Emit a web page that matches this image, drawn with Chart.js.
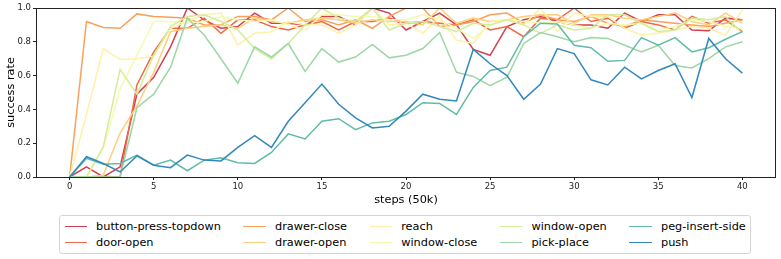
<!DOCTYPE html>
<html>
<head>
<meta charset="utf-8">
<script src="https://cdn.jsdelivr.net/npm/chart.js@4/dist/chart.umd.min.js"></script>
<style>
  html, body { margin: 0; padding: 0; background: #fff; }
  #wrap { position: relative; width: 781px; height: 259px; }
  #legend {
    position: absolute; left: 59px; top: 215px;
    display: flex; gap: 0 22.6px;
    padding: 2px 4.5px 2px 4.5px;
    border: 1px solid #d5d5d5; border-radius: 3px; background: #fff;
    font-family: "DejaVu Sans", sans-serif; font-size: 11.3px; color: #000;
  }
  .col { display: flex; flex-direction: column; }
  .item { display: flex; align-items: center; height: 16.6px; white-space: nowrap; }
  .swatch { width: 22.6px; height: 0; border-top: 1.5px solid; margin-right: 9px; }
</style>
</head>
<body>
<div id="wrap">
  <canvas id="c" width="781" height="259"></canvas>
  <div id="legend"></div>
</div>
<script>
const steps = [0,1,2,3,4,5,6,7,8,9,10,11,12,13,14,15,16,17,18,19,20,21,22,23,24,25,26,27,28,29,30,31,32,33,34,35,36,37,38,39,40];
const xTicks = [0,5,10,15,20,25,30,35,40];
const yTicks = [0,0.2,0.4,0.6,0.8,1.0];

const seriesNames = ["button-press-topdown","door-open","drawer-close","drawer-open","reach","window-close","window-open","pick-place","peg-insert-side","push"];
const seriesColors = ["#d53e4f","#f16844","#fba05a","#fecf7d","#fff1a8","#f4fbae","#d3ed9c","#9cd7a4","#60bca8","#3288bd"];

const buttonPressTopdown = [0,0.06,0,0.06,0.49,0.59,0.77,1.0,0.93,0.88,0.89,0.97,0.91,0.91,0.90,0.95,0.95,0.90,1.0,0.97,0.87,0.92,0.97,0.90,0.755,0.72,0.89,0.93,0.95,0.92,0.90,0.90,0.88,0.97,0.92,0.96,0.96,0.87,0.865,0.94,0.93];
const doorOpen = [0,0,0,0,0.545,0.74,0.88,0.88,0.94,0.85,0.93,0.93,0.89,0.87,0.90,0.92,0.87,0.92,0.92,0.94,0.91,0.92,0.91,0.90,0.93,0.87,0.89,0.83,0.94,0.93,1.0,0.92,0.94,0.88,0.92,0.90,0.87,0.95,0.91,0.93,0.86];
const drawerClose = [0,0.92,0.885,0.88,0.965,0.95,0.945,0.94,0.90,0.90,0.95,0.95,0.93,1.0,0.92,0.93,0.90,0.93,0.88,0.95,1.0,1.0,0.89,0.90,0.92,0.96,0.97,0.91,0.96,0.93,0.92,0.95,0.91,0.89,0.93,0.92,0.91,0.90,0.89,0.91,0.93];
const drawerOpen = [0,0,0.01,0.26,0.42,0.62,0.86,0.88,0.89,0.90,0.88,0.94,0.92,0.91,0.93,0.94,0.93,0.91,0.93,0.92,0.92,0.90,1.0,0.91,0.94,0.92,0.93,0.95,0.96,0.96,0.91,0.96,0.96,0.94,0.93,0.95,0.97,0.92,0.90,0.97,0.91];
const reach = [0,0.37,0.76,0.695,0.70,0.715,0.88,0.92,0.96,0.97,0.78,0.85,0.86,0.92,0.90,0.90,0.85,0.90,1.0,0.90,0.91,0.85,0.95,0.81,0.79,0.92,0.93,0.90,1.0,0.86,0.97,0.95,0.95,0.88,0.84,0.85,0.87,0.89,0.88,0.84,0.99];
const windowClose = [0,0,0.17,0.52,0.72,0.92,0.92,0.91,0.92,0.95,0.93,0.92,0.93,0.90,0.87,0.96,0.96,0.95,0.95,0.93,0.93,0.96,0.93,0.88,0.82,0.90,0.93,0.92,0.91,0.92,0.90,0.88,0.91,0.90,0.91,0.87,0.89,0.93,0.92,0.89,0.88];
const windowOpen = [0,0,0.18,0.637,0.49,0.72,0.89,0.95,0.96,0.92,0.87,0.76,0.70,0.79,0.90,1.0,0.94,0.92,1.0,0.87,0.91,0.92,0.89,0.86,0.91,0.90,0.93,0.90,0.85,0.90,0.87,0.88,0.96,0.96,0.91,0.86,0.87,0.94,0.93,0.95,0.85];
const pickPlace = [0,0,0,0,0.41,0.49,0.65,0.94,0.84,0.70,0.555,0.77,0.71,0.79,0.625,0.76,0.68,0.71,0.785,0.705,0.72,0.76,0.855,0.62,0.595,0.54,0.59,0.79,0.855,0.83,0.80,0.825,0.82,0.78,0.74,0.78,0.66,0.645,0.70,0.77,0.80];
const pegInsertSide = [0,0.11,0.075,0.08,0.13,0.07,0.10,0.037,0.10,0.114,0.085,0.08,0.145,0.255,0.225,0.33,0.345,0.28,0.32,0.33,0.37,0.44,0.435,0.37,0.53,0.63,0.65,0.83,0.91,0.905,0.78,0.765,0.685,0.69,0.825,0.78,0.825,0.74,0.765,0.815,0.86];
const push = [0,0.12,0.08,0.03,0.125,0.07,0.055,0.13,0.10,0.095,0.175,0.245,0.175,0.33,0.44,0.55,0.43,0.35,0.29,0.30,0.39,0.49,0.46,0.45,0.755,0.67,0.60,0.46,0.55,0.76,0.73,0.575,0.545,0.65,0.58,0.63,0.67,0.47,0.82,0.70,0.615];

const seriesValues = [buttonPressTopdown, doorOpen, drawerClose, drawerOpen, reach, windowClose, windowOpen, pickPlace, pegInsertSide, push];

const FONT = '"DejaVu Sans", sans-serif';

const datasets = seriesNames.map((name, k) => ({
  label: name,
  data: steps.map((s, j) => ({x: s, y: seriesValues[k][j]})),
  borderColor: seriesColors[k],
  backgroundColor: seriesColors[k],
  borderWidth: 1.5,
  pointRadius: 0,
  tension: 0,
  fill: false,
  order: seriesNames.length - k
}));

const framePlugin = {
  id: 'frame',
  afterDraw(chart) {
    const {ctx, chartArea: a} = chart;
    ctx.save();
    ctx.strokeStyle = '#222';
    ctx.lineWidth = 1;
    const x0 = Math.floor(a.left) + 0.5, x1 = Math.floor(a.right) - 0.5;
    const y0 = Math.floor(a.top) + 0.5, y1 = Math.floor(a.bottom) + 0.5;
    ctx.strokeRect(x0, y0, x1 - x0, y1 - y0);
    ctx.restore();
  }
};

new Chart(document.getElementById('c'), {
  type: 'line',
  data: { datasets },
  options: {
    responsive: false,
    animation: false,
    devicePixelRatio: 1,
    layout: { padding: { top: 8, right: 5, left: 0, bottom: 0 } },
    plugins: { legend: { display: false }, tooltip: { enabled: false } },
    scales: {
      x: {
        type: 'linear', min: -2, max: 42,
        afterBuildTicks: s => { s.ticks = xTicks.map(v => ({value: v})); },
        afterFit: s => { s.height = 82; },
        border: { display: false },
        grid: { drawOnChartArea: false, drawTicks: true, tickLength: 3, color: '#222', lineWidth: 1 },
        ticks: { color: '#222', font: { family: FONT, size: 8.5 }, padding: 2, maxRotation: 0, autoSkip: false,
                 callback: v => String(v) },
        title: { display: true, text: 'steps (50k)', color: '#000', font: { family: FONT, size: 11.3 },
                 padding: { top: 0, bottom: 52.5 } }
      },
      y: {
        min: 0, max: 1,
        afterBuildTicks: s => { s.ticks = yTicks.map(v => ({value: v})); },
        afterFit: s => { s.width = 36; },
        border: { display: false },
        grid: { drawOnChartArea: false, drawTicks: true, tickLength: 3, color: '#222', lineWidth: 1 },
        ticks: { color: '#222', font: { family: FONT, size: 8.5 }, padding: 2, callback: v => Number(v).toFixed(1) },
        title: { display: true, text: 'success rate', color: '#000', font: { family: FONT, size: 11.3 },
                 padding: { top: 4.6, bottom: 0 } }
      }
    }
  },
  plugins: [framePlugin]
});

// legend: matplotlib-style, 5 columns x 2 rows, filled column by column
const legend = document.getElementById('legend');
for (let c = 0; c < 5; c++) {
  const col = document.createElement('div');
  col.className = 'col';
  for (let r = 0; r < 2; r++) {
    const k = c * 2 + r;
    const item = document.createElement('div');
    item.className = 'item';
    const sw = document.createElement('span');
    sw.className = 'swatch';
    sw.style.borderTopColor = seriesColors[k];
    const tx = document.createElement('span');
    tx.textContent = seriesNames[k];
    item.appendChild(sw); item.appendChild(tx);
    col.appendChild(item);
  }
  legend.appendChild(col);
}
</script>
</body>
</html>
